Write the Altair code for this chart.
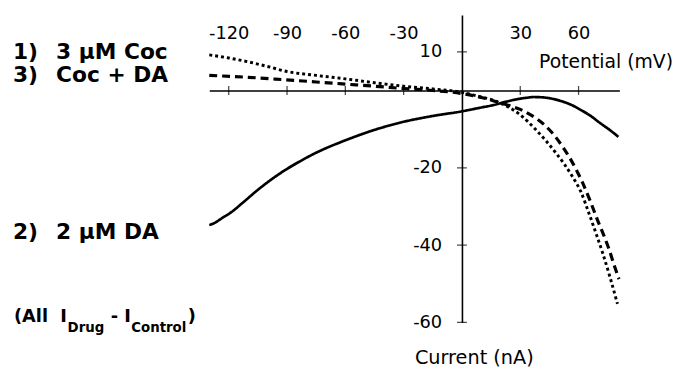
import altair as alt
import pandas as pd

# ---- data (Potential in mV, Current in nA) ----
potential_da = [-130, -127, -124, -119, -112, -105, -98, -91, -85, -75,
                -60, -45, -30, -15, 0, 10, 16, 22, 28, 33,
                37, 42, 47, 52, 57, 61, 66, 71, 76, 80.5]
current_da = [-34.8, -34.2, -33.2, -31.6, -28.7, -25.7, -23.0, -20.6, -18.8, -16.1,
              -12.9, -10.2, -8.1, -6.6, -5.4, -4.4, -3.8, -3.0, -2.3, -1.9,
              -1.7, -1.8, -2.2, -2.9, -3.9, -5.0, -6.5, -8.4, -10.2, -12.0]

potential_coc = [-130, -120, -110, -100, -90, -75, -60, -45, -30, -15,
                 0, 10, 16, 21.5, 26, 30, 34, 38.5, 43, 48.7,
                 53, 57, 61, 65.5, 69, 72.3, 76, 80]
current_coc = [9.2, 8.4, 7.4, 6.2, 4.9, 3.9, 3.0, 2.0, 1.1, 0.4,
               -0.5, -1.7, -2.5, -3.7, -4.9, -6.3, -8.1, -10.4, -12.9, -16.4,
               -19.3, -22.4, -26.0, -32.0, -37.0, -41.9, -48.0, -55.2]

potential_cocda = [-130, -110, -92, -75, -61.5, -45, -30, -15, 0, 10,
                   16.4, 23, 30, 36, 42, 47, 52, 57, 62, 66,
                   69.8, 73, 75.7, 78.5, 80.8]
current_cocda = [3.9, 3.4, 2.8, 2.2, 1.7, 1.1, 0.5, 0.0, -0.8, -1.8,
                 -2.7, -3.7, -4.9, -6.5, -8.7, -11.3, -14.7, -18.8, -23.8, -28.6,
                 -33.6, -37.5, -41.1, -45.5, -48.8]

series_names = ["2 µM DA", "3 µM Coc", "Coc + DA"]

x_tick_values = [-120, -90, -60, -30, 30, 60]
y_tick_values = [10, -20, -40, -60]

x_title = "Potential (mV)"
y_title = "Current (nA)"

label_numbers = ["1)", "3)", "2)"]
label_texts = ["3 µM Coc", "Coc + DA", "2 µM DA"]
note_parts = ["(All\u00a0\u00a0I", "Drug", "-\u00a0I", "Control", ")"]

# ---- build table ----
rows = []
for name, xs, ys in [(series_names[0], potential_da, current_da),
                     (series_names[1], potential_coc, current_coc),
                     (series_names[2], potential_cocda, current_cocda)]:
    for xv, yv in zip(xs, ys):
        rows.append({"series": name, "mV": xv, "nA": yv})
df = pd.DataFrame(rows)

W, H = 415, 311
X_DOMAIN = [-130, 81]
Y_DOMAIN = [-60, 19.5]
x0_px = (0 - X_DOMAIN[0]) / (X_DOMAIN[1] - X_DOMAIN[0]) * W
y0_px = (Y_DOMAIN[1] - 0) / (Y_DOMAIN[1] - Y_DOMAIN[0]) * H

FONT = "DejaVu Sans"

xscale = alt.Scale(domain=X_DOMAIN, nice=False, zero=False)
yscale = alt.Scale(domain=Y_DOMAIN, nice=False, zero=False)

xaxis = alt.Axis(orient="top", offset=-y0_px, values=x_tick_values,
                 ticks=False, tickSize=0, domain=True, domainColor="black",
                 domainWidth=1.6, grid=False, labelPadding=52.5,
                 labelBaseline="alphabetic", labelFlush=False,
                 labelExpr="'' + datum.value",
                 labelFont=FONT, labelFontSize=18, labelColor="black",
                 title=x_title, titleFont=FONT, titleFontSize=19,
                 titleFontWeight="normal", titleColor="black",
                 titleAlign="center", titleBaseline="alphabetic",
                 titleX=401, titleY=-23.6)
yaxis = alt.Axis(orient="left", offset=-x0_px, values=y_tick_values,
                 ticks=False, tickSize=0, domain=True, domainColor="black",
                 domainWidth=1.6, grid=False, labelPadding=20.5,
                 labelExpr="'' + datum.value",
                 labelFont=FONT, labelFontSize=18, labelColor="black",
                 title=y_title, titleFont=FONT, titleFontSize=19.5,
                 titleFontWeight="normal", titleColor="black", titleAngle=0,
                 titleAlign="center", titleBaseline="alphabetic",
                 titleX=12, titleY=352.7)

lines = alt.Chart(df).mark_line(color="black",
                                interpolate="monotone").encode(
    x=alt.X("mV:Q", scale=xscale, axis=xaxis),
    y=alt.Y("nA:Q", scale=yscale, axis=yaxis),
    strokeDash=alt.StrokeDash("series:N",
                              scale=alt.Scale(domain=series_names,
                                              range=[[1, 0], [3, 3], [8, 5]]),
                              legend=None),
    strokeWidth=alt.StrokeWidth("series:N",
                                scale=alt.Scale(domain=series_names,
                                                range=[2.7, 3.2, 3.0]),
                                legend=None),
    detail="series:N",
)

xticks = alt.Chart(pd.DataFrame({"mV": x_tick_values,
                                 "nA": [0] * len(x_tick_values)})).mark_tick(
    orient="vertical", size=9, thickness=1.3, color="black").encode(
    x=alt.X("mV:Q", scale=xscale, axis=xaxis),
    y=alt.Y("nA:Q", scale=yscale, axis=yaxis))

yticks = alt.Chart(pd.DataFrame({"mV": [0] * len(y_tick_values),
                                 "nA": y_tick_values})).mark_tick(
    orient="horizontal", size=10, thickness=1.3, color="black").encode(
    x=alt.X("mV:Q", scale=xscale, axis=xaxis),
    y=alt.Y("nA:Q", scale=yscale, axis=yaxis))


def label(text, px, py, size, weight="bold"):
    return alt.Chart(pd.DataFrame({"t": [text]})).mark_text(
        align="left", baseline="alphabetic", font=FONT, fontSize=size,
        fontWeight=weight, color="black").encode(
        text="t:N", x=alt.value(px), y=alt.value(py))


LEFT = -211.7  # page x -> plot x offset
TOP = -13
annotations = [
    label(label_numbers[0], 13 + LEFT, 57.7 + TOP, 22),
    label(label_texts[0], 56.7 + LEFT, 57.7 + TOP, 22),
    label(label_numbers[1], 13 + LEFT, 80.5 + TOP, 22),
    label(label_texts[1], 56.7 + LEFT, 80.5 + TOP, 22),
    label(label_numbers[2], 13 + LEFT, 239.3 + TOP, 22),
    label(label_texts[2], 56.7 + LEFT, 239.3 + TOP, 22),
    label(note_parts[0], 14 + LEFT, 323.3 + TOP, 18),
    label(note_parts[1], 68.3 + LEFT, 333.3 + TOP, 13.5),
    label(note_parts[2], 112 + LEFT, 323.3 + TOP, 18),
    label(note_parts[3], 132.7 + LEFT, 333.3 + TOP, 13.5),
    label(note_parts[4], 190 + LEFT, 323.3 + TOP, 18),
]

chart = alt.layer(lines, xticks, yticks, *annotations).properties(
    width=W, height=H,
    autosize="none",
    padding={"left": 203.7, "top": 5, "right": 57.3, "bottom": 46},
    background="white",
).configure_view(stroke=None)

chart.save("out.html", embed_options={"renderer": "svg", "actions": False})
